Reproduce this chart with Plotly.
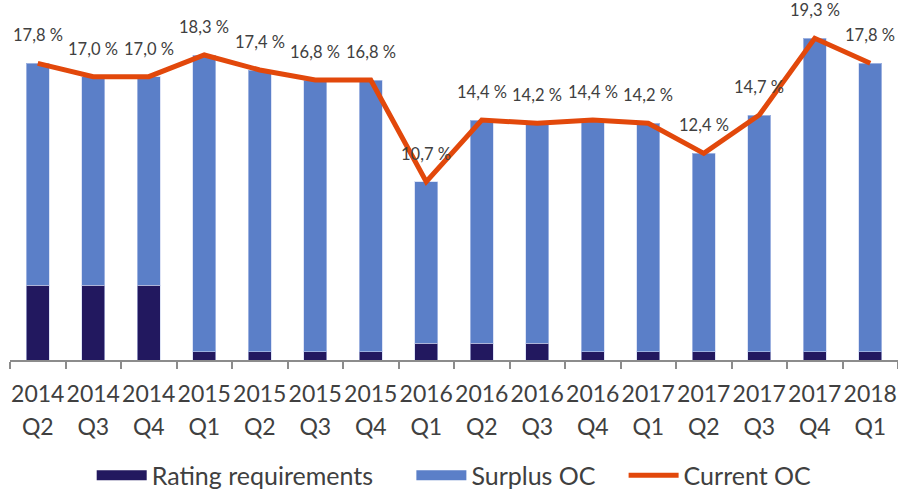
import plotly.graph_objects as go

years = ["2014", "2014", "2014", "2015", "2015", "2015", "2015", "2016",
         "2016", "2016", "2016", "2017", "2017", "2017", "2017", "2018"]
quarters = ["Q2", "Q3", "Q4", "Q1", "Q2", "Q3", "Q4", "Q1",
            "Q2", "Q3", "Q4", "Q1", "Q2", "Q3", "Q4", "Q1"]
current_oc = [17.8, 17.0, 17.0, 18.3, 17.4, 16.8, 16.8, 10.7,
              14.4, 14.2, 14.4, 14.2, 12.4, 14.7, 19.3, 17.8]
rating_req = [4.5, 4.5, 4.5, 0.5, 0.5, 0.5, 0.5, 1.0,
              1.0, 1.0, 0.5, 0.5, 0.5, 0.5, 0.5, 0.5]
surplus_oc = [round(c - r, 2) for c, r in zip(current_oc, rating_req)]

categories = [f"<span style='font-size:23px'>{y}</span><br><span style='font-size:23px'>{q}</span>"
              for y, q in zip(years, quarters)]
labels = [f"{v:.1f} %".replace(".", ",") for v in current_oc]

FONT = "Lato"
TXT = "#404040"
NAVY = "#22185F"
BLUE = "#5B7FC8"
ORANGE = "#E2480B"

fig = go.Figure()
fig.add_trace(go.Bar(
    x=categories, y=rating_req, name="Rating requirements", showlegend=False,
    marker=dict(color=NAVY, line=dict(color="rgba(200,210,240,0.6)", width=1)),
))
fig.add_trace(go.Bar(
    x=categories, y=surplus_oc, name="Surplus OC", showlegend=False,
    marker=dict(color=BLUE, line=dict(color="rgba(200,210,240,0.6)", width=1)),
))
fig.add_trace(go.Scatter(
    x=categories, y=current_oc, name="Current OC", mode="lines", showlegend=False,
    line=dict(color=ORANGE, width=5),
))

# legend entries (wide swatches like the reference), one legend box each
for nm, col, w, lg in [("Rating requirements", NAVY, 15, "legend"),
                       ("Surplus OC", BLUE, 15, "legend2"),
                       ("Current OC", ORANGE, 5, "legend3")]:
    fig.add_trace(go.Scatter(x=[None], y=[None], mode="lines", name=nm,
                             line=dict(color=col, width=w), legend=lg))

for x, y, t in zip(categories, current_oc, labels):
    fig.add_annotation(x=x, y=y, text=t, showarrow=False, yanchor="middle",
                       yshift=28, font=dict(family=FONT, size=16.5, color=TXT))

legend_common = dict(orientation="h", yanchor="middle", y=-0.33, xanchor="left",
                     font=dict(family=FONT, size=25, color=TXT), itemwidth=50,
                     bgcolor="rgba(0,0,0,0)")

fig.update_layout(
    barmode="stack",
    bargap=0.59,
    width=898, height=490,
    margin=dict(l=10, r=0, t=10, b=130, autoexpand=False),
    plot_bgcolor="white", paper_bgcolor="white",
    font=dict(family=FONT, color=TXT),
    showlegend=True,
    legend=dict(x=0.092, **legend_common),
    legend2=dict(x=0.452, **legend_common),
    legend3=dict(x=0.691, **legend_common),
    xaxis=dict(
        type="category", showline=True, linecolor="#8C8C8C", linewidth=2,
        ticks="outside", tickson="boundaries", ticklen=7, tickcolor="#8C8C8C", tickwidth=2,
        tickfont=dict(family=FONT, size=25.5, color=TXT), showgrid=False,
        tickangle=0, automargin=False, ticklabelstandoff=9,
    ),
    yaxis=dict(range=[0, 21], visible=False, showgrid=False, zeroline=False, automargin=False),
)

fig.write_html("out.html", config={"displayModeBar": False})

# remove the browser's default page margin so the figure fills the window exactly
with open("out.html", "r", encoding="utf-8") as f:
    html = f.read()
html = html.replace("<head>", "<head><style>html,body{margin:0;padding:0;overflow:hidden;}</style>", 1)
with open("out.html", "w", encoding="utf-8") as f:
    f.write(html)
